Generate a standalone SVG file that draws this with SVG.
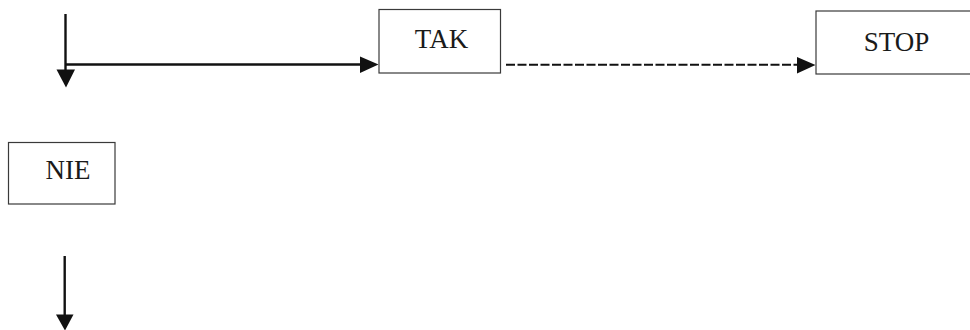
<svg xmlns="http://www.w3.org/2000/svg" width="970" height="330" viewBox="0 0 970 330">
<style>
.box{fill:#fff;stroke:#3a3a3a;stroke-width:1.2}
.lbl{font-family:"Liberation Serif","Times New Roman",serif;font-size:27px;fill:#1a1a1a;text-anchor:middle}
.ln{stroke:#111;stroke-width:2.4;fill:none}
.dash{stroke:#111;stroke-width:2;fill:none;stroke-dasharray:9 2.5}
.head{fill:#111}
</style>
<rect width="970" height="330" fill="#fff"/>
<g id="connectors">
<line class="ln" x1="65.5" y1="14" x2="65.5" y2="72"/>
<polygon class="head" points="56.5,69.5 75,69.5 66,87.5"/>
<line class="ln" x1="66" y1="64.5" x2="362" y2="64.5"/>
<polygon class="head" points="360,56.5 360,73 378.5,64.5"/>
<line class="dash" x1="506" y1="64.8" x2="799" y2="64.8"/>
<polygon class="head" points="797,57 797,73.5 815.5,65"/>
<line class="ln" x1="64.7" y1="256" x2="64.7" y2="317"/>
<polygon class="head" points="56,314.5 73.5,314.5 65,330.5"/>
</g>
<g id="tak">
<rect class="box" x="379" y="9.5" width="121.5" height="63.5"/>
<text class="lbl" x="441.5" y="48">TAK</text>
</g>
<g id="stop">
<rect class="box" x="816" y="11" width="160" height="63"/>
<text class="lbl" x="896.5" y="50.5">STOP</text>
</g>
<g id="nie">
<rect class="box" x="8.5" y="142.5" width="106.5" height="61.5"/>
<text class="lbl" x="68" y="179">NIE</text>
</g>
</svg>
